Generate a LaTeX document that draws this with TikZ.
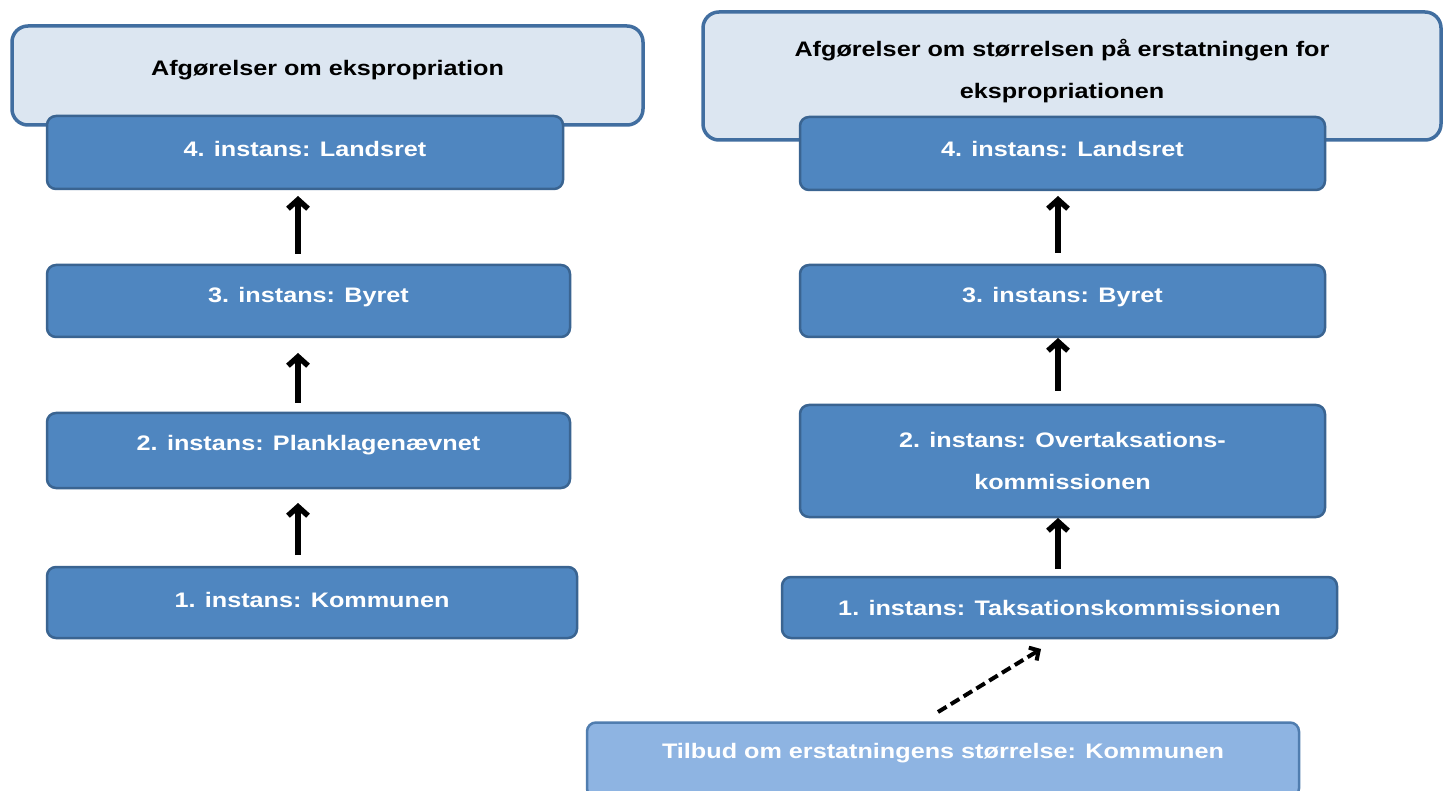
\documentclass[tikz,border=0pt]{standalone}
\usepackage{fontspec}
\setmainfont[FakeStretch=1.2]{Liberation Sans}
\usetikzlibrary{arrows.meta}
\definecolor{boxfill}{RGB}{79,134,192}
\definecolor{boxline}{RGB}{58,100,145}
\definecolor{headfill}{RGB}{220,230,241}
\definecolor{headline}{RGB}{65,110,160}
\definecolor{tilbudfill}{RGB}{142,180,226}
\definecolor{tilbudline}{RGB}{80,125,175}
\newcommand{\boxfont}{\fontsize{21}{42}\selectfont\bfseries}
\tikzset{
  box/.style={draw=boxline, line width=2.5pt, fill=boxfill, rounded corners=9pt,
    text=white, font=\boxfont, align=center, inner sep=0pt},
  headbox/.style={draw=headline, line width=3.5pt, fill=headfill, rounded corners=16pt,
    text=black, font=\boxfont, align=center, inner sep=0pt},
  tilbudbox/.style={draw=tilbudline, line width=2.5pt, fill=tilbudfill, rounded corners=9pt,
    text=white, font=\boxfont, align=center, inner sep=0pt},
  wlabel/.style={text=white, font=\boxfont, inner sep=0pt},
  blabel/.style={text=black, font=\boxfont, align=center, inner sep=0pt},
  uparrow/.style={line width=5.5pt, -{Straight Barb[length=9pt,width=20pt]}},
  dasharrow/.style={line width=4pt, dash pattern=on 10pt off 5pt, -{Straight Barb[length=7pt,width=15pt]}}
}
\begin{document}
\begin{tikzpicture}[x=1pt,y=-1pt]
\useasboundingbox[fill=white] (0,0) rectangle (1446,791);
% left column
\node[headbox, minimum width=631pt, minimum height=99pt] (lh) at (327.5,75.5) {};
\node[blabel] (lht) at (327.5,70) {Afgørelser om ekspropriation};
\node[box, minimum width=516pt, minimum height=73pt] (l4) at (305,152.5) {};
\node[wlabel] (l4t) at (305,149) {4. instans: Landsret};
\node[box, minimum width=523pt, minimum height=72pt] (l3) at (308.5,301) {};
\node[wlabel] (l3t) at (308.5,297) {3. instans: Byret};
\node[box, minimum width=523pt, minimum height=75pt] (l2) at (308.5,450.5) {};
\node[wlabel] (l2t) at (308.5,445) {2. instans: Planklagenævnet};
\node[box, minimum width=530pt, minimum height=71pt] (l1) at (312,602.5) {};
\node[wlabel] (l1t) at (312,600) {1. instans: Kommunen};
\coordinate (a1s) at (298,555); \coordinate (a1e) at (298,503);
\coordinate (a2s) at (298,403); \coordinate (a2e) at (298,353);
\coordinate (a3s) at (298,254); \coordinate (a3e) at (298,196);
\draw[uparrow] (a1s) -- (a1e);
\draw[uparrow] (a2s) -- (a2e);
\draw[uparrow] (a3s) -- (a3e);
% right column
\node[headbox, minimum width=738pt, minimum height=128pt] (rh) at (1072,76) {};
\node[blabel] (rht) at (1062,71) {Afgørelser om størrelsen på erstatningen for\\ekspropriationen};
\node[box, minimum width=525pt, minimum height=73pt] (r4) at (1062.5,153.5) {};
\node[wlabel] (r4t) at (1062.5,149) {4. instans: Landsret};
\node[box, minimum width=525pt, minimum height=72pt] (r3) at (1062.5,301) {};
\node[wlabel] (r3t) at (1062.5,297) {3. instans: Byret};
\node[box, minimum width=525pt, minimum height=112pt] (r2) at (1062.5,461) {2. instans: Overtaksations-\\kommissionen};
\node[box, minimum width=555pt, minimum height=61pt] (r1) at (1059.5,607.5) {1. instans: Taksationskommissionen};
\node[tilbudbox, minimum width=712pt, minimum height=75pt] (tb) at (943,760) {};
\node[wlabel] (tbt) at (943,753) {Tilbud om erstatningens størrelse: Kommunen};
\coordinate (b1s) at (1058,569); \coordinate (b1e) at (1058,518);
\coordinate (b2s) at (1058,391); \coordinate (b2e) at (1058,338);
\coordinate (b3s) at (1058,253); \coordinate (b3e) at (1058,196);
\draw[uparrow] (b1s) -- (b1e);
\draw[uparrow] (b2s) -- (b2e);
\draw[uparrow] (b3s) -- (b3e);
\coordinate (ds) at (938,712); \coordinate (de) at (1041,649);
\draw[dasharrow] (ds) -- (de);
\end{tikzpicture}
\end{document}
